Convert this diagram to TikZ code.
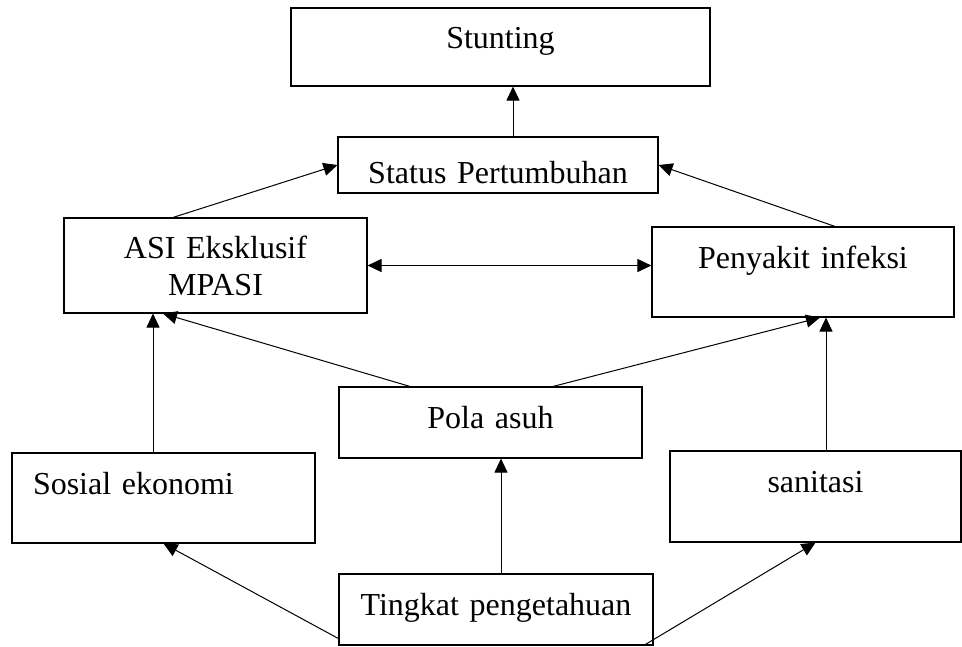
\documentclass[tikz,border=0pt]{standalone}
\usepackage{fontspec}
\setmainfont{Liberation Serif}
\usepackage{tikz}
\usetikzlibrary{arrows.meta}

\begin{document}
\begin{tikzpicture}[x=1pt,y=-1pt,
  box/.style={draw,line width=1.1pt,inner sep=0pt,align=center,font=\fontsize{32}{37}\selectfont},
  arr/.style={-{Triangle[length=14pt,width=13pt]},line width=1pt}]
\useasboundingbox (0,0) rectangle (962,646);
\node[box,text width=419pt,text height=40pt,text depth=38pt] (stunt) at (500.5,47) {Stunting};
\node[box,text width=320pt,text height=46pt,text depth=10pt] (status) at (498,165) {Status Pertumbuhan};
\node[box,text width=303pt,minimum height=95pt] (asi) at (215.5,265.5) {ASI Eksklusif\\MPASI};
\node[box,text width=302pt,text height=41pt,text depth=49pt] (infeksi) at (803,272) {Penyakit infeksi};
\node[box,text width=303pt,text height=41pt,text depth=30pt] (pola) at (490.5,422.5) {Pola asuh};
\node[box,text width=261pt,inner xsep=21pt,align=left,text height=41pt,text depth=49pt] (sosial) at (163.5,498) {Sosial ekonomi};
\node[box,text width=291pt,text height=41pt,text depth=50pt] (sanitasi) at (815.5,496.5) {sanitasi};
\node[box,text width=314pt,text height=41pt,text depth=30pt] (tingkat) at (496,609.5) {Tingkat pengetahuan};
\draw[arr] ([xshift=15pt]status.north) -- ([xshift=12.5pt]stunt.south);
\draw[arr] ([xshift=-42.5pt]asi.north) -- (status.west);
\draw[arr] ([xshift=32pt]infeksi.north) -- (status.east);
\draw[arr,{Triangle[length=14pt,width=13pt]}-{Triangle[length=14pt,width=13pt]}] (asi.east) -- (asi.east -| infeksi.west);
\draw[arr] ([xshift=-80.5pt]pola.north) -- ([xshift=-52.5pt]asi.south);
\draw[arr] ([xshift=62.5pt]pola.north) -- ([xshift=17pt]infeksi.south);
\draw[arr] ([xshift=-10.5pt]sosial.north) -- ([xshift=-10.5pt]sosial.north |- asi.south);
\draw[arr] ([xshift=10.5pt]sanitasi.north) -- ([xshift=10.5pt]sanitasi.north |- infeksi.south);
\draw[arr] ([xshift=5pt]tingkat.north) -- ([xshift=5pt]tingkat.north |- pola.south);
\draw[arr] ([yshift=7pt]tingkat.south west) -- (sosial.south);
\draw[arr] ([xshift=-10pt]tingkat.south east) -- (sanitasi.south);
\end{tikzpicture}
\end{document}
